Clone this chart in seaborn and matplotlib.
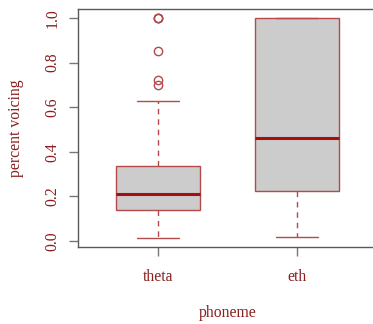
import matplotlib
matplotlib.use("Agg")
import matplotlib.pyplot as plt
import seaborn as sns

categories = ["theta", "eth"]
q1 = [0.139, 0.224]
median = [0.21, 0.462]
q3 = [0.336, 1.0]
whisker_low = [0.013, 0.018]
whisker_high = [0.628, 1.0]
outliers = [[0.70, 0.72, 0.852, 1.0, 1.0, 1.0], []]
yticks = [0.0, 0.2, 0.4, 0.6, 0.8, 1.0]

sns.set_theme(style="white")
plt.rcParams['font.family'] = ['Liberation Serif', 'DejaVu Serif']

text_col = "#8b1e1e"
edge_col = "#b54a4a"
med_col = "#a31010"
fs = 11.3

fig = plt.figure(figsize=(3.73, 3.24), dpi=100)
# right edge of the plot box lies just beyond the image edge
ax = fig.add_axes([78 / 373, 77 / 324, 300 / 373, 238 / 324])

stats = []
for i, c in enumerate(categories):
    stats.append(dict(label=c, q1=q1[i], med=median[i], q3=q3[i],
                      whislo=whisker_low[i], whishi=whisker_high[i],
                      fliers=outliers[i]))

pos = [1, 2]
ax.bxp(stats, positions=pos, widths=0.6, patch_artist=True, showfliers=True,
       boxprops=dict(facecolor="#cccccc", edgecolor=edge_col, linewidth=1.0),
       medianprops=dict(color=med_col, linewidth=2.2),
       whiskerprops=dict(color=edge_col, linewidth=1.0, linestyle=(0, (4, 3.5))),
       capprops=dict(color=edge_col, linewidth=1.0),
       capwidths=0.3,
       flierprops=dict(marker="o", markerfacecolor="none", markeredgecolor=edge_col,
                       markersize=6, markeredgewidth=1.0))

ax.set_xlim(0.424, 2.582)
ax.set_ylim(-0.027, 1.04)
ax.set_yticks(yticks)
ax.set_yticklabels([f"{v:.1f}" for v in yticks], rotation=90, va="center")
ax.set_xticks(pos)
ax.set_xticklabels(categories)

for s in ax.spines.values():
    s.set_color("#5a5a5a")
    s.set_linewidth(1.0)

ax.tick_params(axis="both", direction="out", length=6.5, width=1.0, color="#777777",
               labelcolor=text_col, labelsize=fs, left=True, bottom=True)
ax.tick_params(axis="y", pad=6)
ax.tick_params(axis="x", pad=9)

ax.set_ylabel("percent voicing", color=text_col, fontsize=fs, labelpad=15)
ax.set_xlabel("phoneme", color=text_col, fontsize=fs, labelpad=15)
ax.grid(False)

fig.savefig("out.png", dpi=100)
